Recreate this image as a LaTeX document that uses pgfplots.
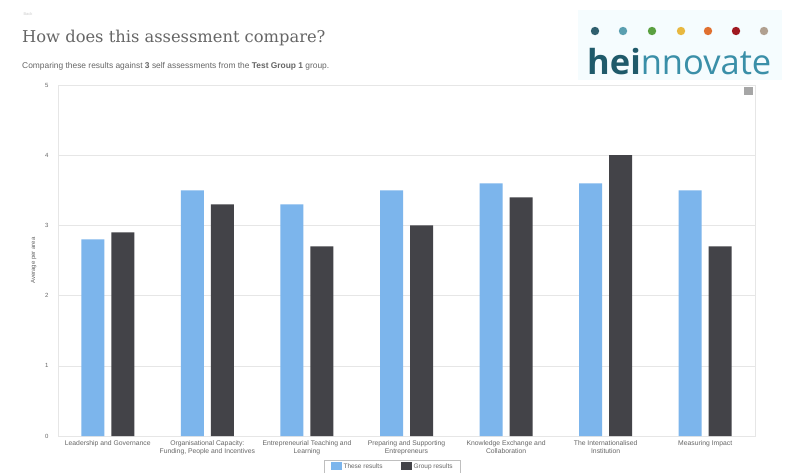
\documentclass[border=0pt]{standalone}
\usepackage{pgfplots}
\pgfplotsset{compat=1.18}
\usepackage{fontspec}
\setmainfont{Liberation Sans}
\newfontfamily\titlefont{DejaVu Serif}
\newfontfamily\logofont{Open Sans}
\definecolor{hcblue}{HTML}{7CB5EC}
\definecolor{hcdark}{HTML}{434348}
\definecolor{gridc}{HTML}{E6E6E6}
\definecolor{txt}{HTML}{666666}
\definecolor{lg1}{HTML}{2F5F6E}
\definecolor{lg2}{HTML}{5A9FB0}
\definecolor{lg3}{HTML}{5AA040}
\definecolor{lg4}{HTML}{E8B840}
\definecolor{lg5}{HTML}{E07030}
\definecolor{lg6}{HTML}{A01820}
\definecolor{lg7}{HTML}{B0A090}
\definecolor{logodark}{HTML}{1F5A6A}
\definecolor{logolight}{HTML}{3A8FA8}
\begin{document}
\begin{tikzpicture}[x=1pt,y=1pt]
\useasboundingbox (0pt,0pt) rectangle (794pt,-472pt);
\fill[white] (0pt,0pt) rectangle (794pt,-472pt);
% top small text
\node[anchor=west,font=\fontsize{4}{5}\selectfont,text=gray!40] at (20pt,-14pt) {Back};
% title
\node[anchor=base west,inner sep=0,font=\titlefont\fontsize{16.3}{19}\selectfont,text=txt] at (22pt,-42pt) {How does this assessment compare?};
\node[anchor=base west,inner sep=0,font=\fontsize{8.4}{9}\selectfont,text=txt] at (22pt,-68pt) {Comparing these results against \textbf{3} self assessments from the \textbf{Test Group 1} group.};
% logo
\fill[cyan!4] (578pt,-10pt) rectangle (782pt,-80pt);
\foreach \c/\xx in {lg1/595,lg2/623,lg3/652,lg4/681,lg5/708,lg6/736,lg7/764}{
  \fill[\c] (\xx pt,-31pt) circle (4.2pt);
}
\node[anchor=base west,inner sep=0,font=\logofont\fontsize{34.5}{36}\selectfont] at (587pt,-74pt) {\textcolor{logodark}{\bfseries hei}\textcolor{logolight}{nnovate}};
% export icon
\fill[gray!70] (744pt,-87pt) rectangle (753pt,-95pt);
\begin{axis}[
  at={(58pt,-436pt)}, anchor=south west,
  scale only axis, width=697pt, height=351pt,
  ymin=0, ymax=5, ytick={0,1,2,3,4,5},
  xmin=-0.5, xmax=6.5,
  xtick={0,...,6},
  xticklabels={Leadership and Governance,
    {Organisational Capacity:\\Funding, People and Incentives},
    {Entrepreneurial Teaching and\\Learning},
    {Preparing and Supporting\\Entrepreneurs},
    {Knowledge Exchange and\\Collaboration},
    {The Internationalised\\Institution},
    Measuring Impact},
  xticklabel style={align=center,font=\fontsize{6.8}{8.5}\selectfont,text=txt,yshift=-1pt},
  yticklabel style={font=\fontsize{6}{7}\selectfont,text=txt,xshift=-6pt},
  /pgf/number format/assume math mode=true,
  major tick length=0pt,
  ymajorgrids, grid style={gridc,line width=0.6pt},
  axis line style={gridc,line width=0.8pt},
  ylabel={Average per area},
  ylabel style={font=\fontsize{6}{7}\selectfont,text=txt,yshift=2pt},
  legend style={at={(0.48,-0.068)},anchor=north,legend columns=2,
    font=\fontsize{6.5}{7.5}\selectfont,draw=gray!50,text=txt,
    inner xsep=6pt,inner ysep=1.5pt,
    /tikz/every even column/.append style={column sep=16pt}},
  legend image code/.code={\fill[#1] (0pt,-3pt) rectangle (11pt,5.5pt);},
]
\addplot[ybar,bar width=23pt,bar shift=-15pt,fill=hcblue,draw=none] coordinates {(0,2.8) (1,3.5) (2,3.3) (3,3.5) (4,3.6) (5,3.6) (6,3.5)};
\addlegendentry{These results}
\addplot[ybar,bar width=23pt,bar shift=15pt,fill=hcdark,draw=none] coordinates {(0,2.9) (1,3.3) (2,2.7) (3,3.0) (4,3.4) (5,4.0) (6,2.7)};
\addlegendentry{Group results}
\end{axis}
\end{tikzpicture}
\end{document}
